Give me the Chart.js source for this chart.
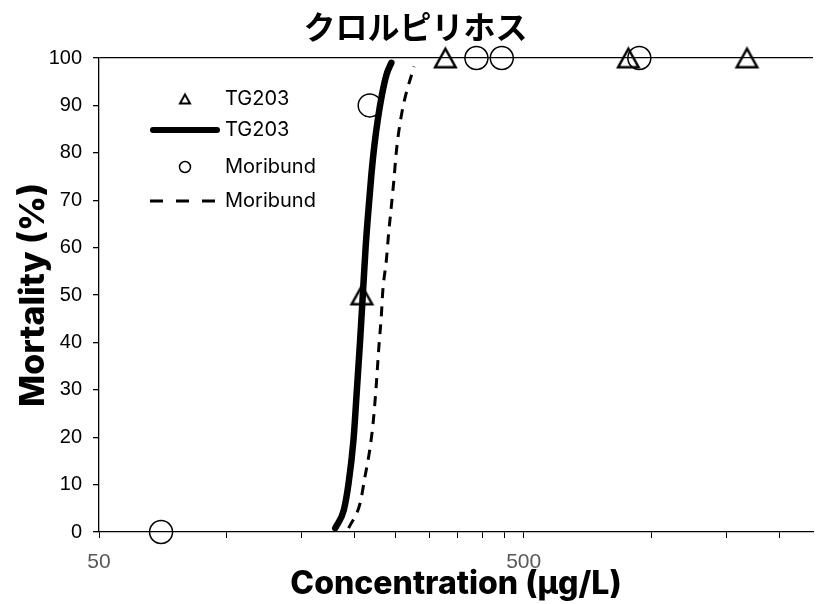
<!DOCTYPE html>
<html>
<head>
<meta charset="utf-8">
<script src="https://cdn.jsdelivr.net/npm/chart.js@4.4.1/dist/chart.umd.min.js"></script>
<style>
  html, body { margin: 0; padding: 0; background: #fff; overflow: hidden; }
  #wrap { width: 826px; height: 604px; }
  #chart { display: block; }
</style>
</head>
<body>
<div id="wrap"><canvas id="chart" width="826" height="604"></canvas></div>
<script>
// Observed points
const tg203Conc = [208, 327, 882, 1678];
const tg203Mort = [50, 100, 100, 100];
const moribundConc = [70, 217, 387, 444, 936];
const moribundMort = [0, 90, 100, 100, 100];

// Fitted curves
const tg203FitConc = [180, 188.5, 193.5, 198.7, 202.4, 206, 209, 212.2, 215.5, 219, 222.5, 226.7, 231.6, 237.5, 244];
const tg203FitMort = [0.8, 4.6, 10.3, 19.4, 30, 40.5, 50, 60, 68, 75.5, 81.5, 87, 92, 96.4, 99];
const moribundFitConc = [193.5, 206, 211.5, 217, 221, 224.4, 228, 231, 233, 237.5, 240.4, 243.9, 247.4, 250.5, 255, 261.8, 276];
const moribundFitMort = [0.8, 6.1, 11.7, 17.3, 23, 30, 39, 45.4, 51, 57.4, 63, 68.6, 74.3, 80, 85.5, 91, 98.2];

// Axis ticks
const xTickValues = [50, 100, 150, 200, 250, 300, 350, 400, 450, 500, 1000, 1500, 2000];
const xLabelValues = [50, 500];
const xMin = 50;
const xMax = 2400;

const legendLabels = ['TG203', 'TG203', 'Moribund', 'Moribund'];

function toXY(xs, ys) {
  return xs.map((x, i) => ({ x: x, y: ys[i] }));
}

// triangle marker centred on its bounding box
function makeTriangle(w, h, lw) {
  const c = document.createElement('canvas');
  c.width = w + 6;
  c.height = h + 6;
  const g = c.getContext('2d');
  g.strokeStyle = '#000';
  g.lineWidth = lw;
  g.lineJoin = 'miter';
  g.beginPath();
  g.moveTo(c.width / 2, 3 + lw / 2);
  g.lineTo(3 + lw / 2, c.height - 3 - lw / 2);
  g.lineTo(c.width - 3 - lw / 2, c.height - 3 - lw / 2);
  g.closePath();
  g.stroke();
  return c;
}

const bigTriangle = makeTriangle(23, 21, 2.5);
const smallTriangle = makeTriangle(12, 11, 2);

const legendPlugin = {
  id: 'insideLegend',
  afterDraw(chart) {
    const ctx = chart.ctx;
    const cx = 185;
    const lineL = 150, lineR = 220, textX = 225;
    const rows = [99, 130, 167, 201];
    ctx.save();
    // triangle
    ctx.drawImage(smallTriangle, cx - smallTriangle.width / 2, rows[0] - smallTriangle.height / 2);
    // solid line
    ctx.strokeStyle = '#000';
    ctx.lineCap = 'round';
    ctx.lineWidth = 6;
    ctx.beginPath();
    ctx.moveTo(lineL + 3, rows[1]);
    ctx.lineTo(lineR - 3, rows[1]);
    ctx.stroke();
    // circle
    ctx.lineWidth = 1.5;
    ctx.beginPath();
    ctx.arc(cx, rows[2], 5.5, 0, Math.PI * 2);
    ctx.stroke();
    // dashed line
    ctx.lineWidth = 3;
    ctx.lineCap = 'butt';
    ctx.setLineDash([13, 13]);
    ctx.beginPath();
    ctx.moveTo(lineL, rows[3]);
    ctx.lineTo(lineR, rows[3]);
    ctx.stroke();
    ctx.setLineDash([]);
    // texts
    ctx.fillStyle = '#000';
    ctx.font = '20px Inter, "Liberation Sans", sans-serif';
    ctx.textBaseline = 'middle';
    ctx.textAlign = 'left';
    legendLabels.forEach((t, i) => ctx.fillText(t, textX, rows[i]));
    ctx.restore();
  }
};

const chart = new Chart(document.getElementById('chart'), {
  type: 'scatter',
  data: {
    datasets: [
      {
        label: legendLabels[1],
        data: toXY(tg203FitConc, tg203FitMort),
        showLine: true,
        borderColor: '#000',
        borderWidth: 6.5,
        borderCapStyle: 'round',
        cubicInterpolationMode: 'monotone',
        pointRadius: 0,
        order: 1,
        clip: false
      },
      {
        label: legendLabels[3],
        data: toXY(moribundFitConc, moribundFitMort),
        showLine: true,
        borderColor: '#000',
        borderWidth: 3,
        borderDash: [10, 8],
        cubicInterpolationMode: 'monotone',
        pointRadius: 0,
        order: 1,
        clip: false
      },
      {
        label: legendLabels[0],
        data: toXY(tg203Conc, tg203Mort),
        pointStyle: bigTriangle,
        pointRadius: 12,
        order: 2,
        clip: false
      },
      {
        label: legendLabels[2],
        data: toXY(moribundConc, moribundMort),
        pointStyle: 'circle',
        pointRadius: 11.5,
        pointBorderWidth: 1.5,
        pointBorderColor: '#000',
        pointBackgroundColor: 'rgba(0,0,0,0)',
        order: 2,
        clip: false
      }
    ]
  },
  options: {
    responsive: false,
    animation: false,
    // plot area runs to the right edge of the picture
    layout: { padding: { left: 0, right: -5, top: 0, bottom: 0 } },
    plugins: {
      legend: { display: false },
      tooltip: { enabled: false },
      title: {
        display: true,
        text: 'クロルピリホス',
        color: '#000',
        font: { family: '"Noto Sans CJK JP", sans-serif', size: 32, weight: 'bold', lineHeight: 1.2 },
        padding: { top: 8, bottom: 11.6 }
      }
    },
    scales: {
      x: {
        type: 'logarithmic',
        min: xMin,
        max: xMax,
        afterBuildTicks: (scale) => {
          scale.ticks = xTickValues.map(v => ({ value: v }));
        },
        afterFit: (scale) => {
          scale.height = 72;
          scale.paddingRight = 0;
          scale.paddingLeft = 0;
        },
        border: { display: true, color: '#000', width: 1.3 },
        grid: { drawOnChartArea: false, drawTicks: true, tickLength: 6, tickColor: '#000', tickWidth: 1 },
        ticks: {
          autoSkip: false,
          maxRotation: 0,
          padding: 12,
          color: '#595959',
          font: { family: '"Liberation Sans Narrow", "Liberation Sans", sans-serif', size: 21 },
          callback: (v) => xLabelValues.includes(v) ? String(v) : ''
        },
        title: {
          display: true,
          text: 'Concentration (μg/L)',
          color: '#000',
          font: { family: 'Inter, "Noto Sans", sans-serif', size: 32, weight: 800, lineHeight: 1.2 },
          padding: { top: 0, bottom: 0 }
        }
      },
      y: {
        type: 'linear',
        min: 0,
        max: 100,
        afterFit: (scale) => { scale.width = 99; },
        border: { display: true, color: '#000', width: 1.3 },
        grid: {
          drawOnChartArea: true,
          drawTicks: true,
          tickLength: 6,
          tickColor: '#000',
          color: (c) => (c.tick && c.tick.value === 100) ? '#000' : 'rgba(0,0,0,0)',
          lineWidth: 1.3
        },
        ticks: {
          stepSize: 10,
          padding: 11,
          color: '#000',
          font: { family: '"Liberation Sans", Arial, sans-serif', size: 20 }
        },
        title: {
          display: true,
          text: 'Mortality (%)',
          color: '#000',
          font: { family: 'Inter, "Noto Sans", sans-serif', size: 34, weight: 800, lineHeight: 1.2 },
          padding: { top: 13, bottom: 0 }
        }
      }
    }
  },
  plugins: [legendPlugin]
});
</script>
</body>
</html>
